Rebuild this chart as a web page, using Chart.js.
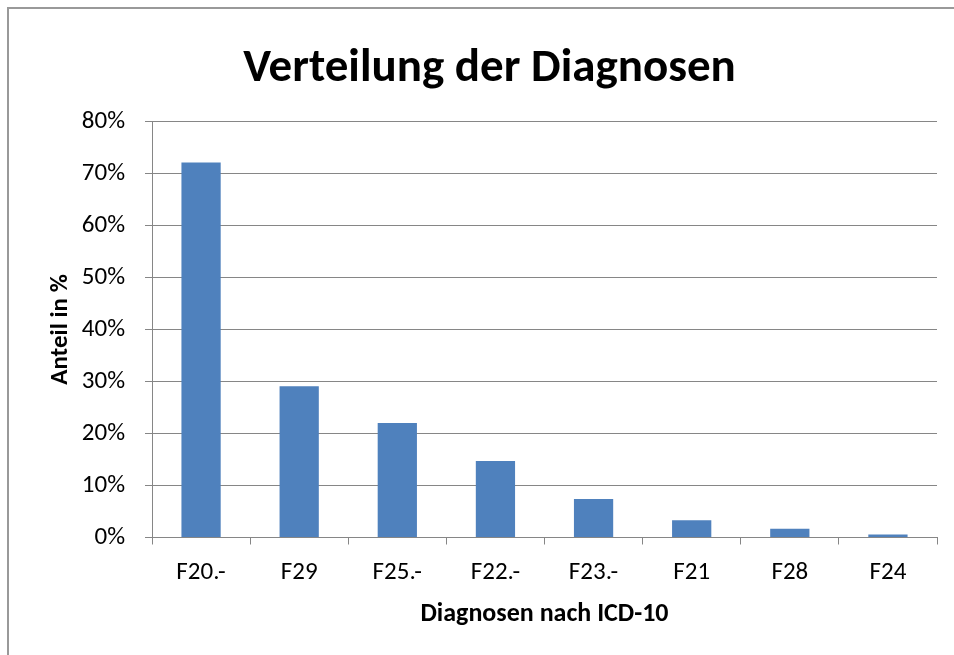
<!DOCTYPE html>
<html lang="de">
<head>
  <meta charset="UTF-8" />
  <title>Verteilung der Diagnosen</title>
  <script src="https://cdn.jsdelivr.net/npm/chart.js"></script>
  <style>
    body { margin: 0; background: #fff; overflow: hidden; }
    #frame { position: absolute; left: 7px; top: 7px; width: 980px; height: 700px; border: 2px solid #999; }
    canvas { position: absolute; left: 0; top: 0; }
  </style>
</head>
<body>
  <div id="frame"></div>
  <canvas id="diagChart" width="954" height="655"></canvas>

  <script>
    const categories = ['F20.-', 'F29', 'F25.-', 'F22.-', 'F23.-', 'F21', 'F28', 'F24'];
    const shares = [72.1, 29.1, 22.0, 14.7, 7.4, 3.3, 1.7, 0.6];
    const yMin = 0, yMax = 80, yStep = 10;

    const fontFam = "Carlito, 'Liberation Sans Narrow', 'Open Sans', sans-serif";
    const gridCol = '#868686';

    const ctx = document.getElementById('diagChart').getContext('2d');
    new Chart(ctx, {
      type: 'bar',
      data: {
        labels: categories,
        datasets: [{
          data: shares,
          backgroundColor: '#4F81BD',
          borderWidth: 0,
          categoryPercentage: 0.8,
          barPercentage: 0.5
        }]
      },
      options: {
        responsive: false,
        animation: false,
        layout: { padding: { left: 42, right: 17, top: 0, bottom: 25 } },
        plugins: {
          legend: { display: false },
          tooltip: { enabled: false },
          title: {
            display: true,
            text: 'Verteilung der Diagnosen',
            color: '#000',
            font: { family: fontFam, size: 47, weight: 'bold' },
            padding: { top: 41, bottom: 24 }
          }
        },
        scales: {
          x: {
            grid: { drawOnChartArea: false, color: gridCol, tickLength: 7 },
            border: { color: gridCol },
            ticks: { color: '#000', font: { family: fontFam, size: 25 }, padding: 13 },
            title: {
              display: true, text: 'Diagnosen nach ICD-10', color: '#000',
              font: { family: fontFam, size: 26, weight: 'bold' }, padding: { top: 0, bottom: 0 }
            },
            afterFit: s => { s.height = 92.5; }
          },
          y: {
            min: yMin, max: yMax,
            grid: { color: gridCol, tickLength: 7 },
            border: { color: gridCol },
            ticks: {
              stepSize: yStep, color: '#000', padding: 20,
              font: { family: fontFam, size: 25 },
              callback: v => v + '%'
            },
            title: {
              display: true, text: 'Anteil in %', color: '#000',
              font: { family: fontFam, size: 25, weight: 'bold' }, padding: { top: 4, bottom: 0 }
            },
            afterFit: s => { s.width = 110; }
          }
        }
      }
    });
  </script>
</body>
</html>
